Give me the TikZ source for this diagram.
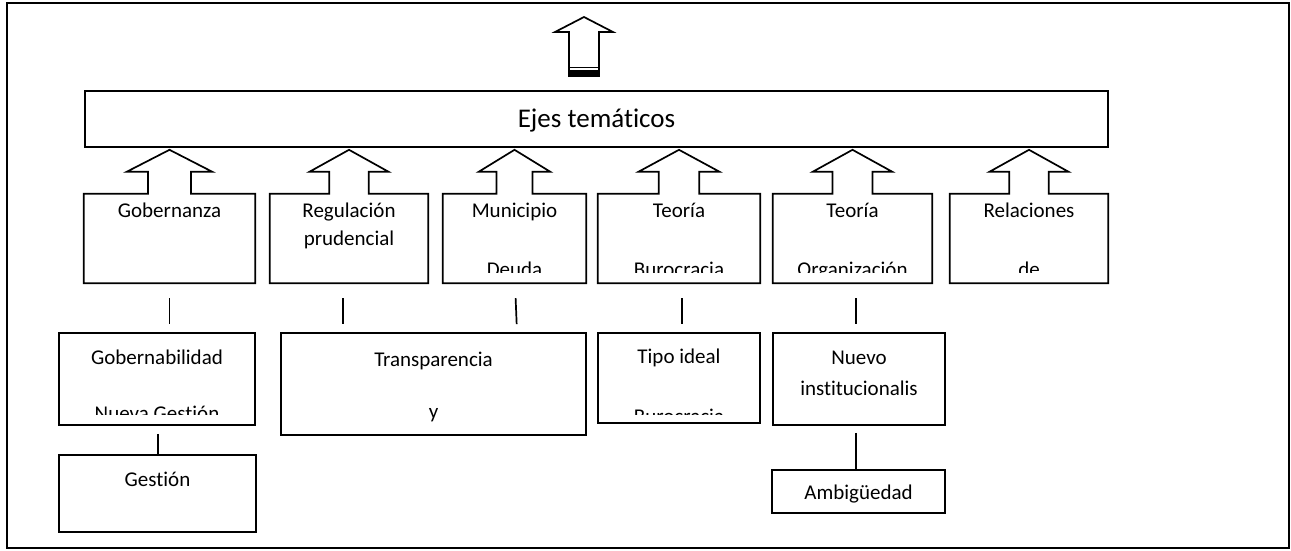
\documentclass[tikz,border=0pt]{standalone}
\usepackage{fontspec}
\setmainfont{Carlito}[Ligatures=NoCommon]
\usetikzlibrary{calc}
\newcommand{\temafont}{\fontsize{21}{25}\selectfont}
\newcommand{\ejesfont}{\fontsize{27}{31}\selectfont}
\tikzset{
  temapicture/.style={x=1pt, y=-1pt},
  temaframe/.style={draw, line width=2.5pt},
  temaejes/.style={draw, line width=2.2pt, minimum width=1023pt, minimum height=56pt, inner sep=0pt, text height=17.5pt, text depth=0pt, font=\ejesfont},
  temacallout/.style={inner sep=0pt, minimum height=89pt},
  temabox/.style={draw, line width=1.7pt, inner sep=0pt},
  temaoutline/.style={draw, line width=1.7pt, line join=miter},
  temaline/.style={anchor=base, inner sep=0pt, font=\temafont},
  temalink/.style={line width=1.7pt},
  temaup/.style={temalink, shorten <=15pt, shorten >=8pt}
}
\begin{document}
\begin{tikzpicture}[temapicture]
\useasboundingbox (0,0) rectangle (1291,550);
\draw[temaframe] (7,3) rectangle (1289,548);
\draw[temaoutline] (569,76) -- (569,32) -- (555,32) -- (584,17) -- (613,32) -- (599,32) -- (599,76) -- cycle;
\draw[line width=1pt] (569,67) -- (599,67);
\fill (569,70) rectangle (599,77);
\node[temaejes] (ejes) at (596.5,119) {Ejes temáticos};

\node[temacallout, minimum width=171pt] (gob) at (169.5,238.5) {};
\node[temacallout, minimum width=158pt] (reg) at (349,238.5) {};
\node[temacallout, minimum width=143pt] (mun) at (514.5,238.5) {};
\node[temacallout, minimum width=162pt] (teob) at (679,238.5) {};
\node[temacallout, minimum width=159pt] (teoo) at (852.5,238.5) {};
\node[temacallout, minimum width=158pt] (rel) at (1029,238.5) {};
\foreach \tema in {gob,reg,mun,teob,teoo,rel}
  \draw[temaoutline] let \p1=(\tema.north west), \p2=(\tema.north east), \n1={(\x2-\x1)/8} in
    (\tema.south west) -- (\tema.north west) -- ([xshift=-\n1]\tema.north) -- ++(0,-22) -- ++(-\n1,0)
    -- ++(2*\n1,-22) -- ++(2*\n1,22) -- ++(-\n1,0) -- ++(0,22) -- (\tema.north east) -- (\tema.south east) -- cycle;

\node[temaline] (gob1) at ([yshift=-24pt]gob.north) {Gobernanza};
\node[temaline] (reg1) at ([yshift=-24pt]reg.north) {Regulación};
\node[temaline] (reg2) at ([yshift=-52pt]reg.north) {prudencial};
\begin{scope}
  \clip ([yshift=11pt]mun.south west) rectangle (rel.north east);
  \node[temaline] (mun1) at ([yshift=-24pt]mun.north) {Municipio};
  \node[temaline] (mun2) at ([yshift=-82.5pt]mun.north) {Deuda};
  \node[temaline] (teob1) at ([yshift=-24pt]teob.north) {Teoría};
  \node[temaline] (teob2) at ([yshift=-82.5pt]teob.north) {Burocracia};
  \node[temaline] (teoo1) at ([yshift=-24pt]teoo.north) {Teoría};
  \node[temaline] (teoo2) at ([yshift=-82.5pt]teoo.north) {Organización};
  \node[temaline] (rel1) at ([yshift=-24pt]rel.north) {Relaciones};
  \node[temaline] (rel2) at ([yshift=-82.5pt]rel.north) {de};
\end{scope}

\node[temabox, minimum width=196pt, minimum height=92pt] (gobl) at (157,379) {};
\node[temabox, minimum width=197pt, minimum height=77pt] (gest) at (157.5,493.5) {};
\node[temabox, minimum width=305pt, minimum height=102pt] (transp) at (433.5,384) {};
\node[temabox, minimum width=162pt, minimum height=90pt] (tipo) at (679,378) {};
\node[temabox, minimum width=172pt, minimum height=92pt] (nuevo) at (859,379) {};
\node[temabox, minimum width=173pt, minimum height=43pt] (ambig) at (858.5,491.5) {};

\begin{scope}
  \clip ([yshift=11pt]gobl.south west) rectangle (gobl.north east);
  \node[temaline] (gobl1) at ([yshift=-32pt]gobl.north) {Gobernabilidad};
  \node[temaline] (gobl2) at ([yshift=-88pt]gobl.north) {Nueva Gestión};
\end{scope}
\begin{scope}
  \clip ([yshift=9pt]tipo.south west) rectangle (tipo.north east);
  \node[temaline] (tipo1) at ([yshift=-31pt]tipo.north) {Tipo ideal};
  \node[temaline] (tipo2) at ([yshift=-91pt]tipo.north) {Burocracia};
\end{scope}
\node[temaline] (transp1) at ([yshift=-34pt]transp.north) {Transparencia};
\node[temaline] (transp2) at ([yshift=-86pt]transp.north) {y};
\node[temaline] (nuevo1) at ([yshift=-32pt]nuevo.north) {Nuevo};
\node[temaline] (nuevo2) at ([yshift=-63pt]nuevo.north) {institucionalis};
\node[temaline] (gest1) at ([yshift=-32pt]gest.north) {Gestión};
\node[temaline] (ambig1) at ([yshift=-30pt]ambig.north) {Ambigüedad};

\draw[temaup] (gob.south) -- (gob.south |- gobl.north);
\draw[temaup] ($(reg.south)+(-6,0)$) -- ($(reg.south |- transp.north)+(-6,0)$);
\draw[temaup] ($(mun.south)+(0.5,0)$) -- ($(mun.south |- transp.north)+(2.5,0)$);
\draw[temaup] ($(teob.south)+(3,0)$) -- ($(teob.south |- tipo.north)+(3,0)$);
\draw[temaup] ($(teoo.south)+(3.5,0)$) -- ($(teoo.south |- nuevo.north)+(3.5,0)$);
\draw[temalink, shorten <=8pt] ($(gobl.south)+(1,0)$) -- ($(gobl.south |- gest.north)+(1,0)$);
\draw[temalink, shorten <=7pt] ($(nuevo.south)+(-3,0)$) -- ($(nuevo.south |- ambig.north)+(-3,0)$);
\end{tikzpicture}
\end{document}
